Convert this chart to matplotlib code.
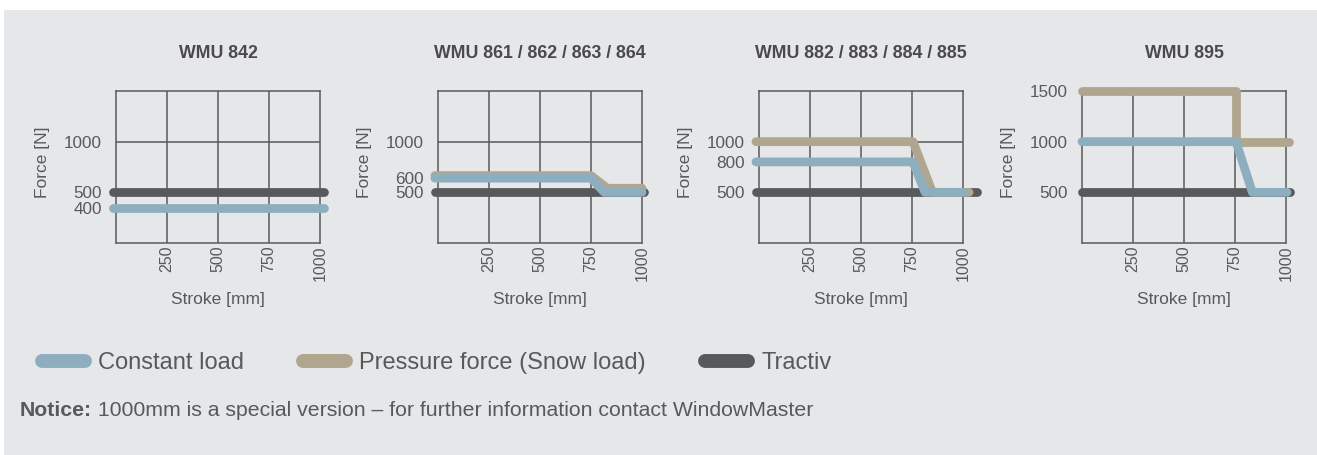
import matplotlib
matplotlib.use("Agg")
import matplotlib.pyplot as plt
from matplotlib.lines import Line2D
from matplotlib.patches import Rectangle

plt.rcParams['font.family'] = ['Liberation Sans', 'DejaVu Sans']

# data (the source drawing is schematic: close curves are
# spread apart, so positions are read from the picture, labels kept as printed)
titles = ['WMU 842', 'WMU 861 / 862 / 863 / 864', 'WMU 882 / 883 / 884 / 885', 'WMU 895']
x_ticks = [250, 500, 750, 1000]
y_tick_pos = [[350, 500, 1000], [500, 640, 1000], [500, 800, 1000], [500, 1000, 1500]]
y_tick_lab = [['400', '500', '1000'], ['500', '600', '1000'], ['500', '800', '1000'],
              ['500', '1000', '1500']]

# constant load (blue)
const_x = [[-15, 1020], [-15, 750, 815, 1000], [-15, 755, 814, 1005], [0, 755, 835, 1005]]
const_y = [[350, 350], [640, 640, 500, 500], [800, 800, 500, 500], [1000, 1000, 500, 500]]
# pressure force / snow load (beige), none for WMU 842
press_x = [[], [-15, 750, 830, 1000], [-15, 755, 850, 1030], [0, 755, 755, 1015]]
press_y = [[], [665, 665, 540, 540], [1000, 1000, 500, 500], [1500, 1500, 1000, 1000]]
# tractive force (dark)
tract_x = [[-15, 1020], [-15, 1010], [-15, 1070], [0, 1020]]
tract_y = [[500, 500], [500, 500], [500, 500], [500, 500]]

legend_labels = ['Constant load', 'Pressure force (Snow load)', 'Tractiv']

c_blue = '#8daebe'
c_beige = '#b0a58e'
c_dark = '#58595b'
c_grid = '#58595b'
c_text = '#58595b'
c_bg = '#e6e7e9'

W, H = 1317, 455
fig = plt.figure(figsize=(W / 100, H / 100), dpi=100, facecolor='white')
fig.add_artist(Rectangle((4 / W, 0), 1, (H - 10) / H, transform=fig.transFigure,
                         facecolor=c_bg, edgecolor='none', zorder=-10))

lefts = [116, 438, 759, 1082]
lw = 6.3

for i in range(4):
    ax = fig.add_axes([lefts[i] / W, (H - 243) / H, 204 / W, 152 / H])
    ax.set_facecolor('none')
    ax.set_xlim(0, 1000)
    ax.set_ylim(0, 1500)
    for g in [250, 500, 750]:
        ax.axvline(g, color=c_grid, lw=1.1, zorder=1)
    for g in [500, 1000]:
        ax.axhline(g, color=c_grid, lw=1.1, zorder=1)
    for s in ax.spines.values():
        s.set_color(c_grid)
        s.set_linewidth(1.1)

    style = dict(lw=lw, solid_capstyle='round', solid_joinstyle='round', clip_on=False)
    ax.plot(tract_x[i], tract_y[i], color=c_dark, zorder=3, **style)
    if press_x[i]:
        ax.plot(press_x[i], press_y[i], color=c_beige, zorder=4, **style)
    ax.plot(const_x[i], const_y[i], color=c_blue, zorder=5, **style)

    ax.set_xticks(x_ticks)
    ax.set_xticklabels([str(v) for v in x_ticks], rotation=90)
    ax.set_yticks(y_tick_pos[i])
    ax.set_yticklabels(y_tick_lab[i])
    ax.tick_params(axis='both', length=0, colors=c_text, labelsize=12.3)
    ax.tick_params(axis='y', pad=10)
    ax.tick_params(axis='x', pad=2, labelsize=11.5)

    ax.set_xlabel('Stroke [mm]', fontsize=12.5, color=c_text, labelpad=8)
    ax.set_ylabel('Force [N]', fontsize=12.5, color=c_text)
    ax.yaxis.set_label_coords(-0.325, 0.53)
    ax.text(0.5, 1 + 33 / 152, titles[i], transform=ax.transAxes, ha='center',
            va='baseline', fontsize=12.8, fontweight='bold', color='#4a4a4c')

handles = [Line2D([], [], color=c, lw=10, solid_capstyle='round') for c in [c_blue, c_beige, c_dark]]
fig.legend(handles, legend_labels, loc='center left', bbox_to_anchor=(42 / W, (H - 363) / H),
           ncol=3, frameon=False, fontsize=17, labelcolor=c_text, borderpad=0,
           borderaxespad=0, handlelength=1.8, handletextpad=0.58, columnspacing=2.5)

t1 = fig.text(20 / W, (H - 416.5) / H, 'Notice:', fontsize=15.3, fontweight='bold',
              color=c_text, va='baseline')
plt.annotate(' 1000mm is a special version \u2013 for further information contact WindowMaster',
             xy=(1, 0), xycoords=t1, xytext=(0, 0), textcoords='offset pixels',
             va='bottom', ha='left', fontsize=15.3, color=c_text, annotation_clip=False)

fig.savefig('out.png', dpi=100, facecolor='white')
